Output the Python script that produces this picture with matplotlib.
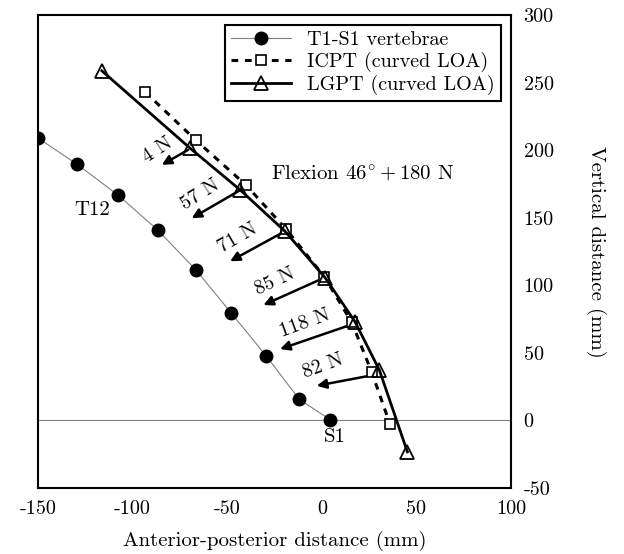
import matplotlib
matplotlib.use("Agg")
import matplotlib.pyplot as plt

plt.rcParams['font.family'] = ['cmr10', 'DejaVu Serif']
plt.rcParams['mathtext.fontset'] = 'cm'
plt.rcParams['axes.unicode_minus'] = False
plt.rcParams['font.size'] = 14

# T1-S1 vertebrae centres (mm)
spine_x = [-150, -129.4, -107.7, -86.6, -66.5, -48.1, -29.5, -11.9, 4.3]
spine_y = [208.9, 189.6, 166.7, 140.7, 111.3, 79.8, 47.9, 15.6, 0.7]

# ICPT follower path (curved LOA)
icpt_x = [-93.4, -66.5, -40.2, -18.9, 1.3, 15.8, 26.4, 36.0]
icpt_y = [243.0, 207.2, 174.3, 141.5, 106.4, 72.6, 35.6, -2.7]

# LGPT follower path (curved LOA)
lgpt_x = [-116.3, -69.7, -43.2, -19.5, 1.7, 17.5, 30.4, 45.2]
lgpt_y = [258.7, 201.5, 170.6, 140.0, 105.7, 73.1, 37.3, -23.2]

# muscle force arrows: label, start, tip, label position, label angle
force_labels = ["4 N", "57 N", "71 N", "85 N", "118 N", "82 N"]
force_start = [(-70.7, 200.2), (-43.2, 170.4), (-19.5, 140.0),
               (1.7, 105.9), (14.9, 70.6), (27.1, 33.6)]
force_tip = [(-84.6, 189.1), (-68.8, 149.6), (-48.5, 117.8),
             (-30.9, 85.4), (-22.1, 52.8), (-2.7, 25.7)]
label_pos = [(-86.6, 200.0), (-64.4, 166.7), (-44.3, 134.8),
             (-24.7, 103.0), (-8.9, 71.9), (0.6, 40.0)]
label_rot = [33, 32, 30, 25, 20, 20]

xticks = [-150, -100, -50, 0, 50, 100]
yticks = [-50, 0, 50, 100, 150, 200, 250, 300]

fig = plt.figure(figsize=(6.24, 5.54), dpi=100)
ax = fig.add_axes([0.061, 0.119, 0.758, 0.854])

ax.axhline(0, color='gray', lw=0.8, zorder=1)

ax.plot(spine_x, spine_y, '-o', color='gray', lw=0.8, mfc='k', mec='k',
        ms=9, label='T1-S1 vertebrae', zorder=3)
ax.plot(icpt_x, icpt_y, '--s', color='k', lw=2.2, dashes=(2.2, 2.2),
        mfc='white', mec='k', mew=1.2, ms=7, label='ICPT (curved LOA)', zorder=4)
ax.plot(lgpt_x, lgpt_y, '-^', color='k', lw=2, mfc='none', mec='k',
        mew=1.3, ms=10, label='LGPT (curved LOA)', zorder=4)

for lab, s, t, p, r in zip(force_labels, force_start, force_tip, label_pos, label_rot):
    ax.annotate("", xy=t, xytext=s,
                arrowprops=dict(arrowstyle='-|>', lw=1.8, color='k',
                                mutation_scale=14, shrinkA=0, shrinkB=0))
    ax.text(p[0], p[1], lab, rotation=r, ha='center', va='center', fontsize=14.5)

ax.text(-121.6, 155.8, "T12", ha='center', va='center', fontsize=15)
ax.text(7, -11.9, "S1", ha='center', va='center', fontsize=15)
ax.text(-27, 182, r"Flexion $46^{\circ} + 180$ N", ha='left', va='center',
        fontsize=15)

ax.set_xlim(-150, 100)
ax.set_ylim(-50, 300)
ax.set_xticks(xticks)
ax.set_xticklabels([str(v) for v in xticks])
ax.set_yticks(yticks)
ax.set_yticklabels([str(v) for v in yticks])
ax.yaxis.tick_right()
ax.yaxis.set_label_position('right')
ax.tick_params(length=0, pad=9, labelsize=14.5)

ax.set_xlabel("Anterior-posterior distance (mm)", fontsize=15, labelpad=9)
ax.set_ylabel("Vertical distance (mm)", fontsize=15, rotation=270,
              labelpad=38)

for sp in ax.spines.values():
    sp.set_linewidth(1.5)

leg = ax.legend(loc='upper right', fontsize=14.5, frameon=True, fancybox=False,
                edgecolor='k', framealpha=1, handlelength=3,
                labelspacing=0.15, borderpad=0.3, borderaxespad=0.5)
leg.get_frame().set_linewidth(1.5)

fig.savefig("out.png", dpi=100)
